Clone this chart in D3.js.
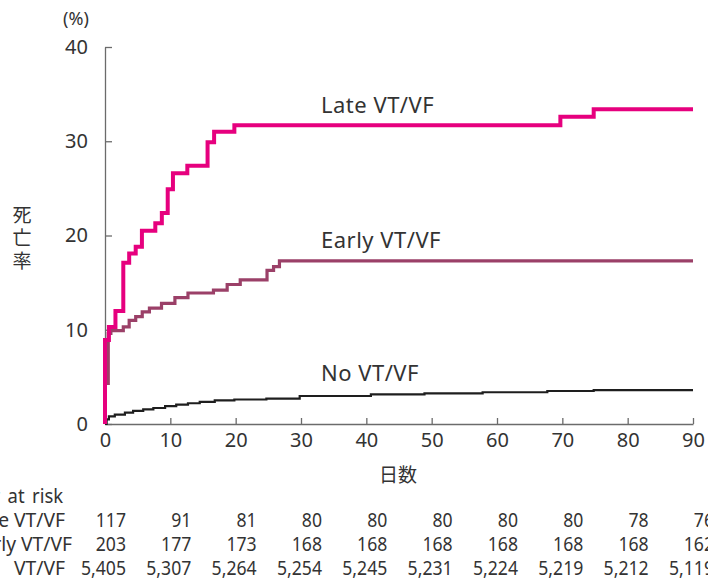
<!DOCTYPE html>
<html><head><meta charset="utf-8">
<script src="https://cdn.jsdelivr.net/npm/d3@7"></script>
<style>
body{margin:0;background:#fff;}
text{font-family:"Noto Sans","Noto Sans CJK JP",sans-serif;fill:#333;}
</style></head>
<body><svg id="c" width="708" height="580"></svg>
<script>
// ---- data ----
const xTicks = [0,10,20,30,40,50,60,70,80,90];
const yTicks = [0,10,20,30,40];
const lateDays  = [0,0,0.6,1.6,2.8,3.7,4.7,5.65,7.7,8.7,9.6,10.4,12.6,15.7,16.7,19.8,69.7,74.8,90];
const lateRates = [0,8.9,10.3,12.0,17.1,18.1,18.8,20.5,21.3,22.4,24.9,26.6,27.4,29.9,31.0,31.7,32.6,33.4,33.4];
const earlyDays  = [0,0,0.5,0.9,2.8,3.7,4.7,5.7,6.8,8.65,10.7,12.7,16.6,18.7,20.7,24.8,25.8,26.7,90];
const earlyRates = [0,4.3,9.6,9.9,10.3,11.0,11.4,11.9,12.3,12.8,13.4,13.9,14.2,14.8,15.3,16.3,16.7,17.3,17.3];
const noDays  = [0,0.25,0.6,1.5,3.05,4.3,5.85,7.4,9.2,10.9,12.7,14.5,16.8,19.8,24.7,29.8,40.7,48.9,57.8,67.7,74.8,90];
const noRates = [0,0.5,0.8,1.0,1.2,1.4,1.55,1.7,1.9,2.05,2.2,2.35,2.5,2.6,2.7,2.97,3.15,3.26,3.37,3.5,3.6,3.6];
const seriesNames = ["Late VT/VF","Early VT/VF","No VT/VF"];
const riskLate  = ["117","91","81","80","80","80","80","80","78","76"];
const riskEarly = ["203","177","173","168","168","168","168","168","168","162"];
const riskNo    = ["5,405","5,307","5,264","5,254","5,245","5,231","5,224","5,219","5,212","5,119"];

// ---- layout ----
const svg = d3.select("#c");
const x = d3.scaleLinear().domain([0,90]).range([105,693]);
const y = d3.scaleLinear().domain([0,40]).range([424,47]);
const axisColor = "#6b6b6b";

const xa = svg.append("g").attr("transform","translate(0,424)")
  .call(d3.axisBottom(x).tickValues(xTicks).tickSize(-6).tickSizeOuter(0).tickPadding(9));
const ya = svg.append("g").attr("transform","translate(105,0)")
  .call(d3.axisLeft(y).tickValues(yTicks).tickSize(-7).tickSizeOuter(0).tickPadding(17));
[xa,ya].forEach(a=>{
  a.selectAll("path,line").attr("stroke",axisColor).attr("stroke-width",1.3);
  a.selectAll("text").attr("font-size",20).attr("fill","#333")
   .attr("font-family",'"Noto Sans",sans-serif');
});

const line = d3.line().x(d=>x(d[0])).y(d=>y(d[1])).curve(d3.curveStepAfter);
const series = [
  {days:noDays, rates:noRates, color:"#1e1e1e", w:2.2},
  {days:earlyDays, rates:earlyRates, color:"#9b4068", w:3.2},
  {days:lateDays, rates:lateRates, color:"#e6007e", w:4}
];
series.forEach(s=>{
  svg.append("path").datum(s.days.map((d,i)=>[d,s.rates[i]]))
    .attr("d",line).attr("fill","none").attr("stroke",s.color)
    .attr("stroke-width",s.w).attr("stroke-linejoin","miter");
});

// curve labels
const labelY = [113,248,381];
seriesNames.forEach((n,i)=>{
  svg.append("text").attr("x",321).attr("y",labelY[i]).attr("font-size",22)
    .attr("letter-spacing",0.5).text(n);
});

// axis titles
svg.append("text").attr("x",76).attr("y",25).attr("text-anchor","middle").attr("font-size",18).text("(%)");
const yt = svg.append("text").attr("font-size",19).attr("text-anchor","middle")
  .attr("font-family",'"Noto Sans CJK JP",sans-serif');
["死","亡","率"].forEach((c,i)=>{
  yt.append("tspan").attr("x",22).attr("y",222+i*23).text(c);
});
svg.append("text").attr("x",398).attr("y",482).attr("text-anchor","middle").attr("font-size",19)
  .attr("font-family",'"Noto Sans CJK JP",sans-serif').text("日数");

// risk table
function tt(px,py,str,anchor,sx,ws){
  const t = svg.append("g").attr("transform",`translate(${px},${py}) scale(${sx},1)`)
    .append("text").attr("text-anchor",anchor).attr("font-size",20.5).text(str);
  if(ws) t.attr("word-spacing",ws);
  return t;
}
tt(-72,503,"Number at risk","start",0.9,3);
const rowY = [527,551,575];
const rowLabelEnd = [65,72,65];
const rowWordSpacing = [0,0,14];
[riskLate,riskEarly,riskNo].forEach((row,r)=>{
  tt(rowLabelEnd[r],rowY[r],seriesNames[r],"end",0.94,rowWordSpacing[r]);
  row.forEach((v,i)=>tt(x(xTicks[i])+21,rowY[r],v,"end",0.86));
});
</script></body></html>
